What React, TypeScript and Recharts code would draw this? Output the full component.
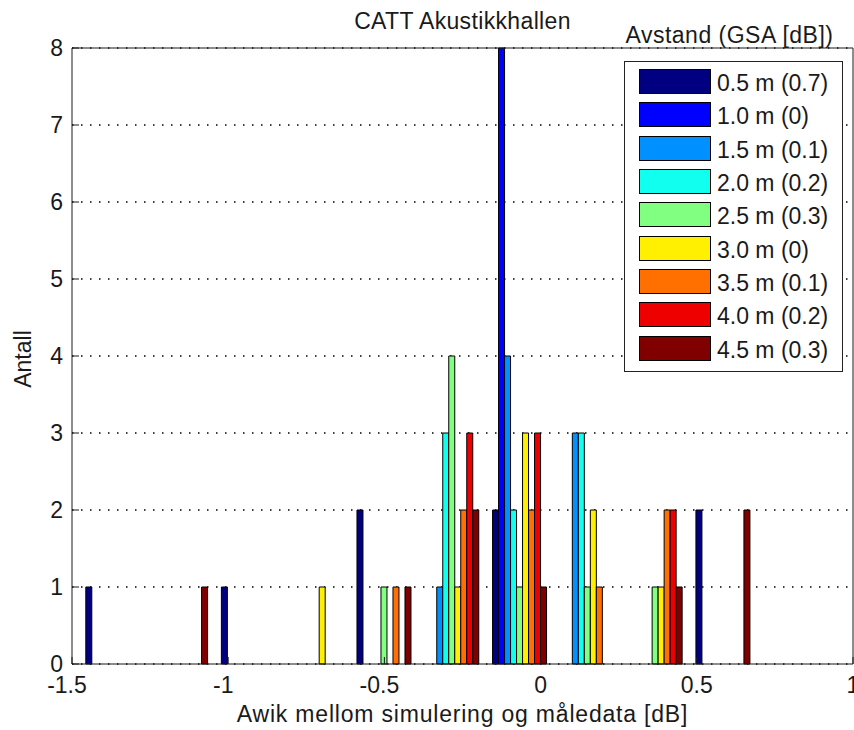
import { BarChart, Bar, XAxis, YAxis, CartesianGrid, Legend } from "recharts";

// histogram bin centres (dB) and the count per distance in each bin
const binCenters = [-1.369, -1.152, -0.935, -0.718, -0.501, -0.284, -0.067, 0.15, 0.367, 0.584];

const xTicks = [-1.5, -1, -0.5, 0, 0.5, 1];
const yTicks = [0, 1, 2, 3, 4, 5, 6, 7, 8];

const seriesNames = [
    "0.5 m (0.7)",
    "1.0 m (0)",
    "1.5 m (0.1)",
    "2.0 m (0.2)",
    "2.5 m (0.3)",
    "3.0 m (0)",
    "3.5 m (0.1)",
    "4.0 m (0.2)",
    "4.5 m (0.3)",
];

const seriesColors = ["#000080", "#0000ff", "#0090ff", "#10ffef", "#80ff80", "#ffef00", "#ff7000", "#ef0000", "#800000"];

const d05 = [1, 0, 1, 0, 2, 0, 2, 0, 0, 2];
const d10 = [0, 0, 0, 0, 0, 0, 8, 0, 0, 0];
const d15 = [0, 0, 0, 0, 0, 1, 4, 3, 0, 0];
const d20 = [0, 0, 0, 0, 0, 3, 2, 3, 0, 0];
const d25 = [0, 0, 0, 0, 1, 4, 1, 1, 1, 0];
const d30 = [0, 0, 0, 1, 0, 1, 3, 2, 1, 0];
const d35 = [0, 0, 0, 0, 1, 2, 2, 1, 2, 0];
const d40 = [0, 0, 0, 0, 0, 3, 3, 0, 2, 0];
const d45 = [0, 1, 0, 0, 1, 2, 1, 0, 1, 2];

const seriesValues = [d05, d10, d15, d20, d25, d30, d35, d40, d45];

const data = binCenters.map((x, i) => {
    const row: Record<string, number> = { x };
    seriesValues.forEach((vals, s) => {
        row[`s${s}`] = vals[i];
    });
    return row;
});

const font = '"Liberation Sans", Arial, sans-serif';
const ink = "#1a1a1a";

function XTick({ x, y, payload }: any) {
    const v = payload.value;
    return (
        <text x={x} y={y} dx={v < 0 ? -5 : 0} dy="0.71em" textAnchor="middle" fontFamily={font} fontSize={23} fill={ink}>
            {v}
        </text>
    );
}

function XTitle({ viewBox }: any) {
    return (
        <text
            x={viewBox.x + viewBox.width / 2}
            y={viewBox.y + 58}
            textAnchor="middle"
            fontFamily={font}
            fontSize={23}
            letterSpacing={0.8}
            fill={ink}
        >
            Awik mellom simulering og måledata [dB]
        </text>
    );
}

function ChartTitle({ viewBox }: any) {
    return (
        <text
            x={viewBox.x + viewBox.width / 2}
            y={viewBox.y - 18}
            textAnchor="middle"
            fontFamily={font}
            fontSize={23}
            letterSpacing={0.35}
            fill={ink}
        >
            CATT Akustikkhallen
        </text>
    );
}

function YTitle({ viewBox }: any) {
    const cx = viewBox.x + 31;
    const cy = viewBox.y + viewBox.height / 2 + 3;
    return (
        <text x={cx} y={cy} transform={`rotate(-90 ${cx} ${cy})`} textAnchor="middle" fontFamily={font} fontSize={23} fill={ink}>
            Antall
        </text>
    );
}

function LegendBox({ payload }: any) {
    return (
        <div style={{ position: "relative", width: 219, height: 350, fontFamily: font, color: ink }}>
            <div
                style={{
                    position: "absolute",
                    left: -4,
                    top: 0,
                    width: 219,
                    textAlign: "center",
                    fontSize: 23,
                    lineHeight: "26px",
                    letterSpacing: 0.5,
                    whiteSpace: "nowrap",
                }}
            >
                Avstand (GSA [dB])
            </div>
            <div
                style={{
                    position: "absolute",
                    left: 0,
                    top: 39,
                    width: 219,
                    height: 311,
                    boxSizing: "border-box",
                    border: "1px solid #222",
                    background: "#fff",
                }}
            >
                {(payload || []).map((p: any, i: number) => (
                    <div key={p.value} style={{ position: "absolute", left: 14, top: 7 + i * 33.35, height: 25, display: "flex" }}>
                        <span
                            style={{
                                display: "block",
                                width: 72,
                                height: 25,
                                boxSizing: "border-box",
                                border: "1px solid #000",
                                background: p.color,
                            }}
                        />
                        <span style={{ marginLeft: 6, fontSize: 23, lineHeight: "25px", position: "relative", top: 2, whiteSpace: "nowrap" }}>
                            {p.value}
                        </span>
                    </div>
                ))}
            </div>
        </div>
    );
}

export default function App() {
    return (
        <div style={{ position: "absolute", left: 0, top: 0, width: 854, height: 730, background: "#fff" }}>
            <BarChart
                width={854}
                height={730}
                data={data}
                margin={{ top: 47, right: 0, bottom: 0, left: 0 }}
                barCategoryGap="10%"
                barGap={0}
            >
                <CartesianGrid vertical={false} stroke="#000" strokeWidth={1.3} strokeDasharray="1.5 7.5" />
                <XAxis
                    type="number"
                    dataKey="x"
                    domain={[-1.5, 1]}
                    ticks={xTicks}
                    interval={0}
                    height={66}
                    stroke={ink}
                    tickSize={-7}
                    tickMargin={20}
                    tick={<XTick />}
                    label={<XTitle />}
                />
                <XAxis
                    xAxisId="top"
                    orientation="top"
                    type="number"
                    dataKey="x"
                    domain={[-1.5, 1]}
                    ticks={xTicks}
                    interval={0}
                    height={1}
                    stroke={ink}
                    tickSize={-7}
                    tick={false}
                    label={<ChartTitle />}
                />
                <YAxis
                    domain={[0, 8]}
                    ticks={yTicks}
                    interval={0}
                    width={72}
                    stroke={ink}
                    tickSize={-7}
                    tickMargin={16}
                    tick={{ fill: ink, fontSize: 23, fontFamily: font }}
                    label={<YTitle />}
                />
                <YAxis
                    yAxisId="right"
                    orientation="right"
                    domain={[0, 8]}
                    ticks={yTicks}
                    interval={0}
                    width={1}
                    stroke={ink}
                    tickSize={-7}
                    tick={false}
                />
                <Legend
                    layout="vertical"
                    align="center"
                    verticalAlign="middle"
                    content={<LegendBox />}
                    wrapperStyle={{ left: 624, top: 22, width: 219, height: 350 }}
                />
                {seriesNames.map((name, i) => (
                    <Bar
                        key={name}
                        dataKey={`s${i}`}
                        name={name}
                        fill={seriesColors[i]}
                        stroke="#000"
                        strokeWidth={1}
                        isAnimationActive={false}
                    />
                ))}
            </BarChart>
        </div>
    );
}
